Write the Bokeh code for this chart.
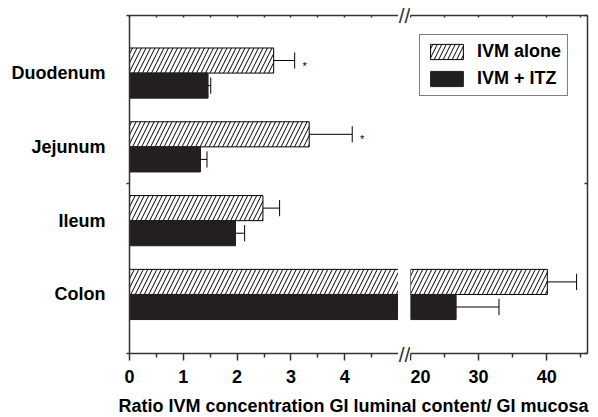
from bokeh.plotting import figure
from bokeh.models import (LinearAxis, FixedTicker, Range1d, Legend, LegendItem,
                          ColumnDataSource, CDSView, BooleanFilter)
from bokeh.layouts import row, column
from bokeh.embed import file_html
from bokeh.resources import INLINE
from bokeh.core.properties import value

# ---------------- data ----------------
categories = ["Duodenum", "Jejunum", "Ileum", "Colon"]
ivm_alone = [2.68, 3.34, 2.48, 40.1]
ivm_alone_err = [0.39, 0.80, 0.31, 4.3]
ivm_itz = [1.46, 1.32, 1.97, 26.7]
ivm_itz_err = [0.05, 0.12, 0.17, 6.3]
significant = [True, True, False, False]
series_labels = ["IVM alone", "IVM + ITZ"]

left_ticks = [0, 1, 2, 3, 4]
left_minor = [0.5, 1.5, 2.5, 3.5, 4.5]
right_ticks = [20, 30, 40]
right_minor = [25, 35, 45]
x_title = "Ratio IVM concentration GI luminal content/ GI mucosa"

# ---------------- styling / layout ----------------
FONT = "Liberation Sans"
AXC = "#333333"
DARK = "#231f20"
BAR_H = 0.34
CAP = 0.11
Y_RANGE = (0.2, 4.78)
FRAME_TOP = 13
FRAME_H = 340
TOP_H = 389
TITLE_H = 28
GAP_W = 12

ypos = [len(categories) - i for i in range(len(categories))]
y_alone = [y + BAR_H / 2 for y in ypos]
y_itz = [y - BAR_H / 2 for y in ypos]
alone_hi = [v + e for v, e in zip(ivm_alone, ivm_alone_err)]
itz_hi = [v + e for v, e in zip(ivm_itz, ivm_itz_err)]
src = ColumnDataSource(dict(
    cat=categories,
    y_alone=y_alone, y_itz=y_itz,
    alone=ivm_alone, alone_hi=alone_hi,
    itz=ivm_itz, itz_hi=itz_hi,
    ya_lo=[y - CAP for y in y_alone], ya_hi=[y + CAP for y in y_alone],
    yi_lo=[y - CAP for y in y_itz], yi_hi=[y + CAP for y in y_itz],
))
star_src = ColumnDataSource(dict(
    x=[h for h, s in zip(alone_hi, significant) if s],
    y=[y for y, s in zip(y_alone, significant) if s],
    t=["*" for s in significant if s],
))


def style_axis(ax):
    ax.axis_line_color = AXC
    ax.axis_line_width = 1.5
    ax.major_tick_line_color = AXC
    ax.minor_tick_line_color = AXC
    ax.major_tick_line_width = 1.5
    ax.minor_tick_line_width = 1.5
    ax.major_label_text_font = FONT
    ax.major_label_text_font_style = "bold"
    ax.major_label_text_font_size = "18px"
    ax.major_label_text_color = "black"


def panel(x0, x1, width, mb_left, mb_right, ticks, minor):
    p = figure(width=width, height=TOP_H, x_range=Range1d(x0, x1),
               y_range=Range1d(*Y_RANGE), toolbar_location=None,
               output_backend="svg", min_border_left=mb_left,
               min_border_right=mb_right, min_border_top=FRAME_TOP,
               min_border_bottom=TOP_H - FRAME_TOP - FRAME_H,
               x_axis_location="below", y_axis_location=None,
               outline_line_color=None)
    p.grid.grid_line_color = None
    xa = p.xaxis[0]
    xa.ticker = FixedTicker(ticks=ticks, minor_ticks=minor)
    style_axis(xa)
    xa.major_tick_in = 0
    xa.major_tick_out = 7
    xa.minor_tick_in = 0
    xa.minor_tick_out = 4
    xa.major_label_standoff = 9
    top = LinearAxis(ticker=FixedTicker(ticks=[], minor_ticks=ticks + minor))
    style_axis(top)
    top.minor_tick_in = 2
    top.minor_tick_out = 0
    p.add_layout(top, "above")

    # only draw the marks that reach into this panel's x-range
    def in_panel(lo_vals, hi_vals):
        return CDSView(filter=BooleanFilter([bool(h >= x0 and l <= x1)
                                             for l, h in zip(lo_vals, hi_vals)]))

    zeros = [0] * len(categories)
    ra = p.hbar(y="y_alone", left=0, right="alone", height=BAR_H, source=src,
                view=in_panel(zeros, ivm_alone),
                fill_color="white", line_color="black", line_width=1,
                hatch_pattern="/", hatch_scale=9, hatch_color="black",
                hatch_weight=1)
    ri = p.hbar(y="y_itz", left=0, right="itz", height=BAR_H, source=src,
                view=in_panel(zeros, ivm_itz),
                fill_color=DARK, line_color=DARK, line_width=1)
    for v, hi, yc, lo, up, his in (
            ("alone", "alone_hi", "y_alone", "ya_lo", "ya_hi", alone_hi),
            ("itz", "itz_hi", "y_itz", "yi_lo", "yi_hi", itz_hi)):
        view = in_panel(his, his)
        p.segment(x0=v, y0=yc, x1=hi, y1=yc, source=src, view=view,
                  line_color="black", line_width=1)
        p.segment(x0=hi, y0=lo, x1=hi, y1=up, source=src, view=view,
                  line_color="black", line_width=1)
    return p, ra, ri


# left panel (0 - 5)
pL, raL, riL = panel(0, 5, 398, 129, 0, left_ticks, left_minor)
pL.text(x="x", y="y", text="t", source=star_src, x_offset=10, y_offset=5,
        text_align="center", text_baseline="middle", text_font=value(FONT),
        text_font_size="11px", text_color="black")
ya = LinearAxis(ticker=FixedTicker(ticks=ypos, minor_ticks=[Y_RANGE[0], 2.5, Y_RANGE[1]]))
style_axis(ya)
ya.major_label_overrides = {y: c for y, c in zip(ypos, categories)}
ya.major_tick_in = 0
ya.major_tick_out = 0
ya.minor_tick_in = 0
ya.minor_tick_out = 3
ya.major_label_standoff = 21
pL.add_layout(ya, "left")

# right panel (20 - 46)
pR, raR, riR = panel(20, 46, 188, 0, 11, right_ticks, right_minor)
yr = LinearAxis(ticker=FixedTicker(ticks=[], minor_ticks=[Y_RANGE[0], 2.5, Y_RANGE[1]]))
style_axis(yr)
yr.minor_tick_in = 3
yr.minor_tick_out = 0
pR.add_layout(yr, "right")

legend = Legend(items=[LegendItem(label=series_labels[0], renderers=[raR]),
                       LegendItem(label=series_labels[1], renderers=[riR])],
                location="top_right", margin=19, padding=6, spacing=6,
                glyph_width=41, glyph_height=19, label_standoff=10,
                label_text_font=FONT, label_text_font_style="bold",
                label_text_font_size="18px", label_text_color="black",
                border_line_color="black", border_line_width=1.2,
                background_fill_color="white", background_fill_alpha=1)
pR.add_layout(legend)

# narrow strip between the panels: its own (line-less) top and bottom axes carry
# the "//" axis-break marks, pulled onto the axis lines with a negative standoff
pG = figure(width=GAP_W, height=TOP_H, x_range=Range1d(0, 1), y_range=Range1d(*Y_RANGE),
            toolbar_location=None, output_backend="svg", min_border=0,
            min_border_top=FRAME_TOP, min_border_bottom=TOP_H - FRAME_TOP - FRAME_H,
            x_axis_location=None, y_axis_location=None, outline_line_color=None)
pG.grid.grid_line_color = None
for place in ("above", "below"):
    brk = LinearAxis(ticker=FixedTicker(ticks=[0.5], minor_ticks=[]),
                     major_label_overrides={0.5: "//"})
    brk.axis_line_color = None
    brk.major_tick_line_color = None
    brk.minor_tick_line_color = None
    brk.major_tick_out = 0
    brk.major_tick_in = 0
    brk.major_label_standoff = -11
    brk.major_label_text_font = FONT
    brk.major_label_text_font_size = "21px"
    brk.major_label_text_color = AXC
    pG.add_layout(brk, place)

# x-axis title spanning both panels (pixel-based ranges)
pT = figure(width=598, height=TITLE_H, x_range=Range1d(0, 598), y_range=Range1d(0, TITLE_H),
            toolbar_location=None, output_backend="svg", min_border=0,
            x_axis_location=None, y_axis_location=None, outline_line_color=None)
pT.grid.grid_line_color = None
pT.text(x=[353], y=[12], text=[x_title], text_align="center", text_baseline="middle",
        text_font=value(FONT), text_font_style="bold", text_font_size="18px",
        text_color="black")

layout = column(row(pL, pG, pR), pT)
open("out.html", "w").write(file_html(layout, INLINE))
